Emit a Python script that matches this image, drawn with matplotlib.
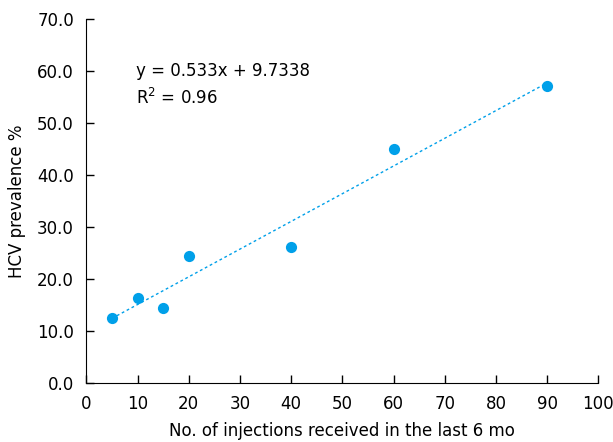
import numpy as np
import matplotlib.pyplot as plt

injections = [5, 10, 15, 20, 40, 60, 90]
prevalence = [12.5, 16.4, 14.3, 24.4, 26.1, 44.9, 57.2]

x = np.array(injections)
y = np.array(prevalence)

plt.rcParams['font.family'] = ['DejaVu Sans']

fig = plt.figure(figsize=(6.13, 4.42), dpi=100)
ax = fig.add_axes([0.141, 0.134, 0.835, 0.823])

# trend line from the fitted equation shown on the chart
slope, intercept = 0.533, 9.7338
xl = np.array([x.min(), x.max()])
ax.plot(xl, slope * xl + intercept, color='#00a0e9', lw=1, ls=(0, (2, 2)))
ax.scatter(x, y, s=65, color='#00a0e9', zorder=3, linewidths=0)

ax.text(9.6, 57.3, 'y = 0.533x + 9.7338\nR$^2$ = 0.96', fontsize=12, va='center',
        linespacing=1.5)

ax.set_xlim(0, 100)
ax.set_ylim(0, 70)
ax.set_xticks(range(0, 101, 10))
ax.set_yticks(range(0, 71, 10))
ax.set_yticklabels(['%.1f' % v for v in range(0, 71, 10)])
ax.tick_params(labelsize=12, direction='in', length=6, width=1, pad=9)
ax.spines['top'].set_visible(False)
ax.spines['right'].set_visible(False)
ax.set_xlabel('No. of injections received in the last 6 mo', fontsize=12, labelpad=6)
ax.set_ylabel('HCV prevalence %', fontsize=12, labelpad=8)

fig.savefig('out.png', dpi=100)
